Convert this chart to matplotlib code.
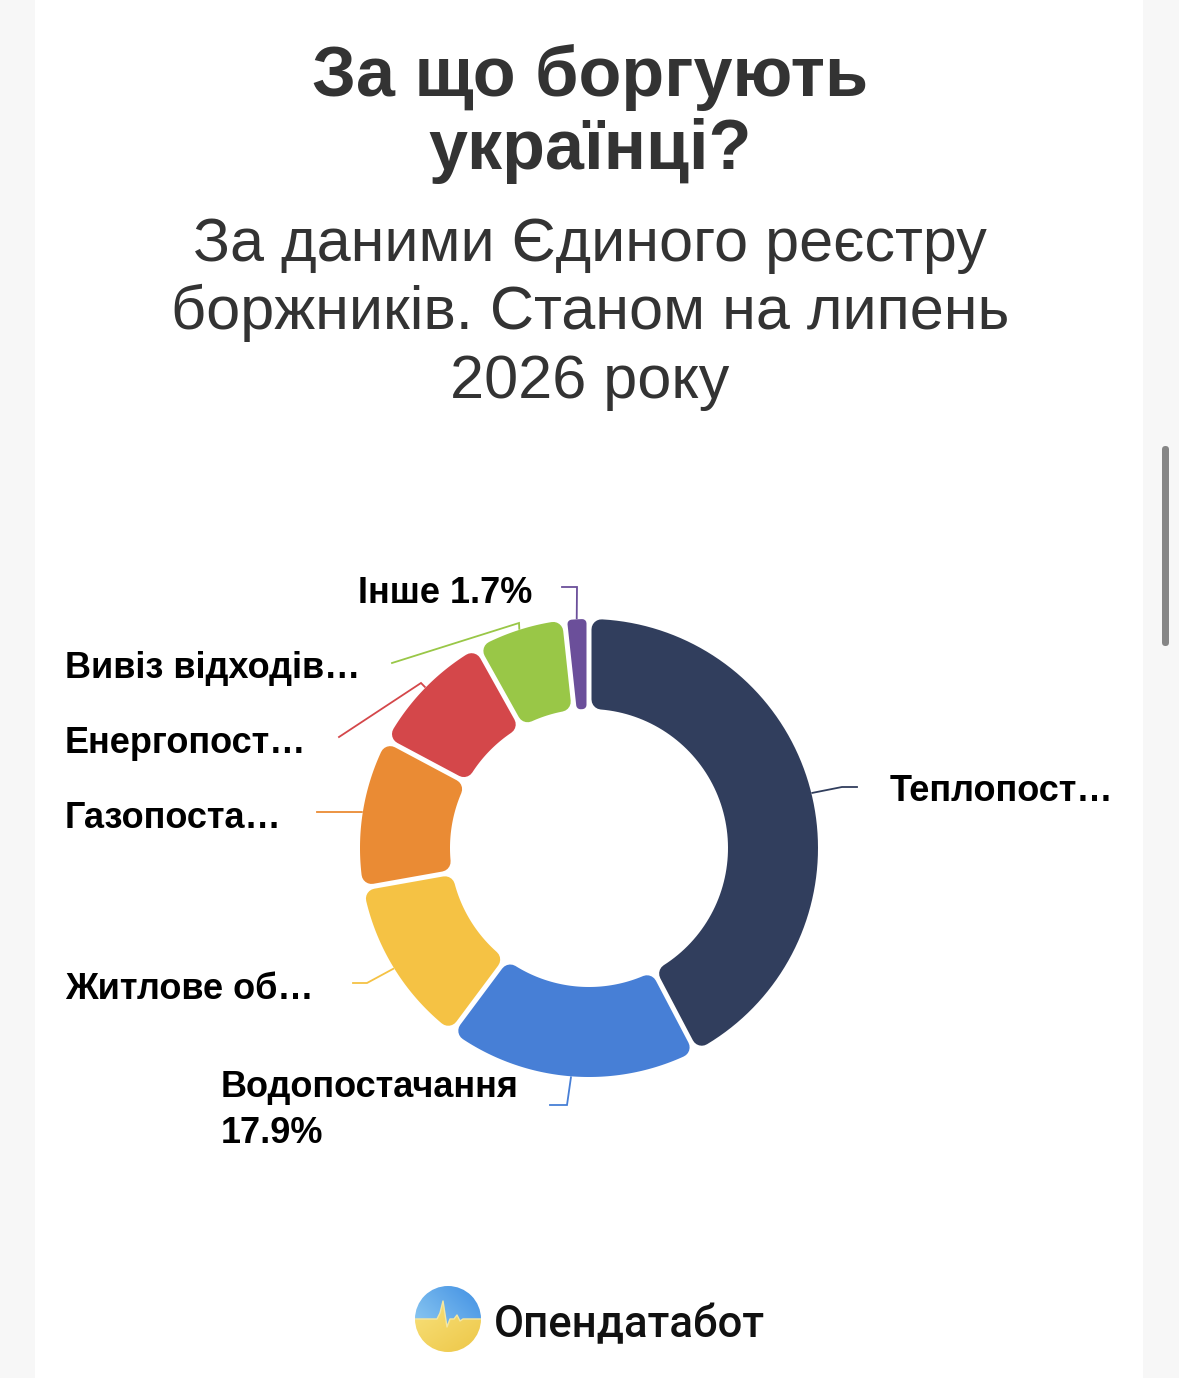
import numpy as np
import matplotlib.pyplot as plt
from matplotlib.patches import Polygon, Circle, FancyBboxPatch, Rectangle

# data
categories = ["Теплопостачання", "Водопостачання", "Житлове обслуговування",
              "Газопостачання", "Енергопостачання", "Вивіз відходів", "Інше"]
shares = [42.3, 17.9, 12.0, 10.6, 9.1, 6.4, 1.7]
colors = ["#313e5d", "#477fd6", "#f5c244", "#ea8b34", "#d4474a", "#99c747", "#6b4f9a"]
label_texts = [["Теплопост…"], ["Водопостачання", "17.9%"], ["Житлове об…"],
               ["Газопоста…"], ["Енергопост…"], ["Вивіз відходів…"], ["Інше 1.7%"]]

W, H = 1179, 1378
CX, CY, R_OUT, R_IN = 589, 848, 229, 139
LBL = ['Liberation Sans', 'DejaVu Sans']

# label layout: connector elbow points, text x, baseline y
layout = [
    ([(842, 787), (857, 787)], 890, 801),
    ([(567, 1105), (550, 1105)], 221, 1097),
    ([(367, 983), (353, 983)], 65, 999),
    ([(345, 812), (317, 812)], 65, 828),
    ([(421, 683), (339, 737)], 65, 753),
    ([(519, 623), (392, 663)], 65, 678),
    ([(577, 587), (562, 587)], 358, 603),
]


def rounded_sector(a1, a2, gap=5.0, rc=10.0):
    a1r, a2r = np.radians(a1), np.radians(a2)
    half = (a2r - a1r) / 2
    rc = min(rc, max(0.5, (R_IN * np.sin(half) - gap / 2) * 0.85))
    d = gap / 2 + rc
    ro, ri = R_OUT - rc, R_IN + rc
    po, pi = np.arcsin(d / ro), np.arcsin(d / ri)
    t_out = np.linspace(a1r + po, a2r - po, 80)
    t_in = np.linspace(a2r - pi, a1r + pi, 80)
    xs = np.concatenate([CX + ro * np.cos(t_out), CX + ri * np.cos(t_in)])
    ys = np.concatenate([CY + ro * np.sin(t_out), CY + ri * np.sin(t_in)])
    return np.column_stack([xs, ys]), rc


fig = plt.figure(figsize=(W / 100, H / 100), dpi=100, facecolor="#f7f7f7")
ax = fig.add_axes([0, 0, 1, 1])
ax.set_facecolor("#f7f7f7")

# card + scrollbar
ax.add_patch(Rectangle((35, 0), 1108, H, fc="white", ec="none", zorder=0))
ax.add_patch(FancyBboxPatch((1162, 446), 7, 200, boxstyle="round,pad=0,rounding_size=3.5",
                            fc="#868686", ec="none", zorder=1))

# donut (y axis is inverted, so counterclock in data = clockwise on screen)
wedges, _ = ax.pie(shares, colors=colors, startangle=-90, counterclock=True,
                   radius=R_OUT, center=(CX, CY), wedgeprops=dict(width=R_OUT - R_IN))
for w, col, lines, (elbow, tx, ty) in zip(wedges, colors, label_texts, layout):
    t1, t2 = w.theta1, w.theta2
    w.set_visible(False)
    xy, rc = rounded_sector(t1, t2)
    ax.add_patch(Polygon(xy, closed=True, fc=col, ec=col, lw=2 * rc * 0.72,
                         joinstyle='round', zorder=3))
    mid = np.radians((t1 + t2) / 2)
    sx, sy = CX + (R_OUT + 1) * np.cos(mid), CY + (R_OUT + 1) * np.sin(mid)
    px = [sx] + [p[0] for p in elbow]
    py = [sy] + [p[1] for p in elbow]
    ax.plot(px, py, color=col, lw=1.3, solid_joinstyle='miter', zorder=2)
    for k, line in enumerate(lines):
        ax.text(tx, ty + 46 * k, line, fontsize=26, fontweight='bold', family=LBL,
                color="black", ha='left', va='baseline', zorder=4)

# title + subtitle
for k, line in enumerate(["За що боргують", "українці?"]):
    ax.text(590, 96 + 73 * k, line, fontsize=50.5, fontweight='bold', family=LBL,
            color="#333333", ha='center', va='baseline')
for k, line in enumerate(["За даними Єдиного реєстру", "боржників. Станом на липень", "2026 року"]):
    ax.text(590, 261 + 68.5 * k, line, fontsize=44, family=LBL,
            color="#333333", ha='center', va='baseline')

# logo
lx, ly, lr = 448, 1319, 33
gx = np.linspace(lx - lr, lx + lr, 220)
gy = np.linspace(ly - lr, ly + lr, 220)
GX, GY = np.meshgrid(gx, gy)
hb_x = [lx - 34, lx - 11, lx - 8, lx - 5, lx - 1, lx + 2, lx + 6, lx + 9, lx + 12, lx + 15, lx + 34]
hb_y = [ly, ly, ly - 6, ly - 18, ly + 8, ly, ly, ly - 4, ly + 2, ly, ly]
boundary = np.interp(GX, hb_x, hb_y)
u = (GX - gx[0]) / (2 * lr)
v = (GY - gy[0]) / (2 * lr)
blue_a, blue_b = np.array([0.62, 0.84, 0.96]), np.array([0.25, 0.56, 0.89])
yel_a, yel_b = np.array([0.98, 0.90, 0.52]), np.array([0.93, 0.78, 0.28])
tb = np.clip(0.5 * u + 0.5 * (1 - v), 0, 1)[..., None]
ty_ = np.clip(0.6 * v + 0.4 * u, 0, 1)[..., None]
img = np.where((GY < boundary)[..., None], blue_a * (1 - tb) + blue_b * tb,
               yel_a * (1 - ty_) + yel_b * ty_)
im = ax.imshow(img, extent=(gx[0], gx[-1], gy[-1], gy[0]), origin='upper',
               interpolation='bilinear', zorder=5)
clip = Circle((lx, ly), lr, transform=ax.transData)
im.set_clip_path(clip)
hb, = ax.plot(hb_x, hb_y, color="#f6e7a0", lw=1.0, zorder=6)
hb.set_clip_path(Circle((lx, ly), lr, transform=ax.transData))
ax.text(494, 1337, "Опендатабот", fontsize=31.5, fontweight='medium',
        family=['Roboto', 'DejaVu Sans'], color="#111111", ha='left', va='baseline')

ax.set_xlim(0, W)
ax.set_ylim(H, 0)
ax.set_aspect('auto')
ax.axis('off')
fig.savefig("out.png", dpi=100, facecolor=fig.get_facecolor())
